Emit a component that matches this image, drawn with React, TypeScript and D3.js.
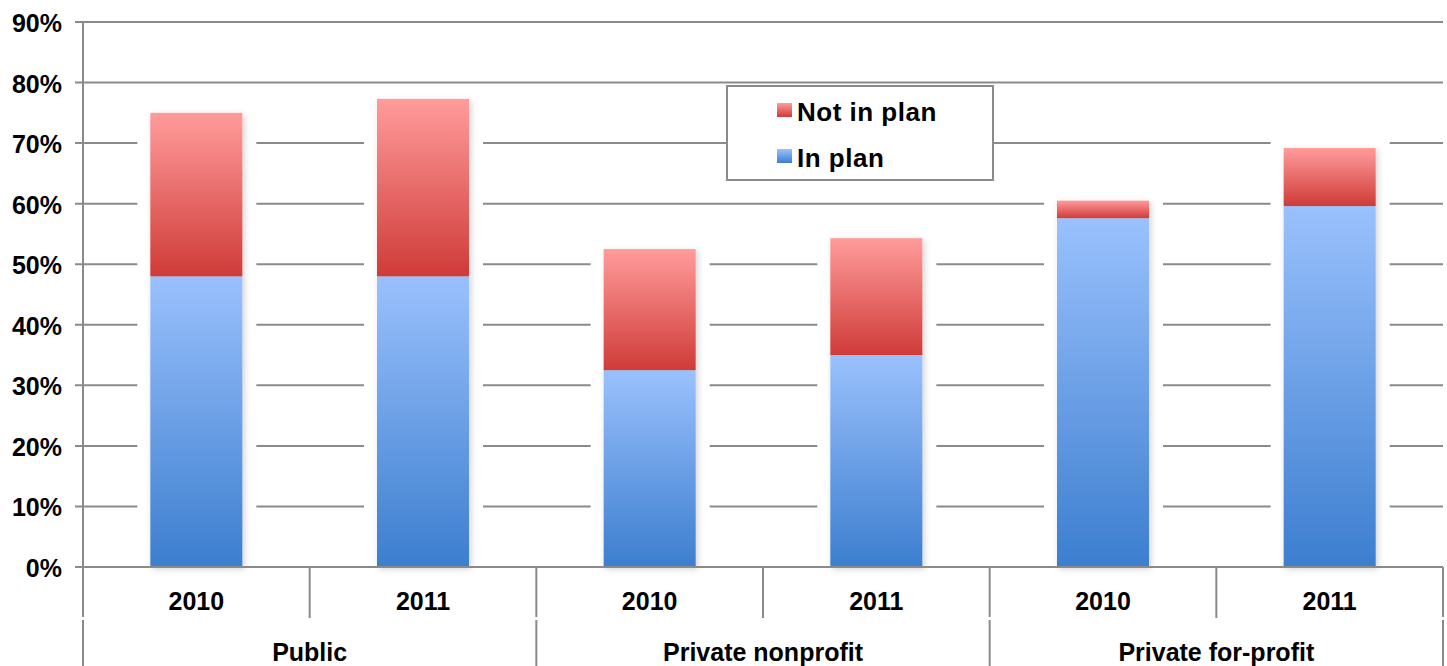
import React from 'react'
import * as d3 from "d3";

const groups = ["Public", "Private nonprofit", "Private for-profit"]
const years = ["2010", "2011"]
// percentage of institutions, one value per group/year slot
const inPlan = [48, 48, 32.5, 35, 57.6, 59.6]
const notInPlan = [27, 29.3, 20, 19.3, 2.9, 9.6]
const yTicks = [0, 10, 20, 30, 40, 50, 60, 70, 80, 90]
const seriesNames = ["Not in plan", "In plan"]

const slots = groups.flatMap(g => years.map(y => `${g}|${y}`))

const dimensions = {
  width: 1447,
  height: 666,
  left: 83,
  right: 1443,
  top: 22,
  bottom: 567,
}

const font = "'Liberation Sans', Arial, sans-serif"
const gridColor = "#8a8a8a"

export default function App() {
  const xScale = d3.scaleBand<string>()
    .domain(slots)
    .range([dimensions.left, dimensions.right])
    .paddingInner(0.594)
    .paddingOuter(0.297)

  const yScale = d3.scaleLinear()
    .domain([0, 90])
    .range([dimensions.bottom, dimensions.top])

  const step = xScale.step()
  const bw = xScale.bandwidth()
  const groupWidth = step * years.length

  return (
    <div style={{ position: 'absolute', left: 0, top: 0 }}>
      <svg width={dimensions.width} height={dimensions.height} style={{ display: 'block', background: '#fff' }}>
        <defs>
          <linearGradient id="redGrad" x1="0" y1="0" x2="0" y2="1">
            <stop offset="0%" stopColor="#ff9c9b" />
            <stop offset="100%" stopColor="#cf3b38" />
          </linearGradient>
          <linearGradient id="blueGrad" x1="0" y1="0" x2="0" y2="1">
            <stop offset="0%" stopColor="#9ac1fd" />
            <stop offset="100%" stopColor="#3c7ecf" />
          </linearGradient>
          <filter id="barShadow" x="-20%" y="-10%" width="140%" height="120%">
            <feDropShadow dx="2" dy="2" stdDeviation="3" floodColor="#000" floodOpacity="0.18" />
          </filter>
        </defs>

        {/* gridlines + y ticks */}
        {yTicks.map(t => (
          <line key={t} x1={dimensions.left - 8} x2={dimensions.right} y1={yScale(t)} y2={yScale(t)}
            stroke={gridColor} strokeWidth={2} />
        ))}

        {/* white halo around bars cuts the gridlines */}
        {slots.map((s, i) => (
          <rect key={s} x={(xScale(s) as number) - 13} width={bw + 27}
            y={yScale(inPlan[i] + notInPlan[i]) - 8}
            height={yScale(0) - yScale(inPlan[i] + notInPlan[i]) + 6}
            fill="#fff" />
        ))}

        {/* y axis line */}
        <line x1={dimensions.left} x2={dimensions.left} y1={dimensions.top - 1} y2={dimensions.bottom}
          stroke={gridColor} strokeWidth={2} />

        {/* bars */}
        <g filter="url(#barShadow)">
          {slots.map((s, i) => (
            <g key={s}>
              <rect x={xScale(s)} width={bw} y={yScale(inPlan[i])} height={yScale(0) - yScale(inPlan[i])}
                fill="url(#blueGrad)" />
              <rect x={xScale(s)} width={bw} y={yScale(inPlan[i] + notInPlan[i])}
                height={yScale(inPlan[i]) - yScale(inPlan[i] + notInPlan[i])}
                fill="url(#redGrad)" />
            </g>
          ))}
        </g>

        {/* x axis line */}
        <line x1={dimensions.left - 8} x2={dimensions.right} y1={yScale(0)} y2={yScale(0)}
          stroke={gridColor} strokeWidth={2} />

        {/* year separators */}
        {slots.map((s, i) => i % 2 === 1 ? (
          <line key={s} x1={(xScale(s) as number) - (step - bw) / 2} x2={(xScale(s) as number) - (step - bw) / 2}
            y1={yScale(0)} y2={618} stroke={gridColor} strokeWidth={2} />
        ) : null)}

        {/* group separators */}
        {d3.range(groups.length + 1).map(i => {
          const x = dimensions.left + i * groupWidth
          return (
            <g key={i}>
              <line x1={x} x2={x} y1={yScale(0)} y2={617} stroke={gridColor} strokeWidth={2} />
              <line x1={x} x2={x} y1={620} y2={dimensions.height} stroke={gridColor} strokeWidth={2} />
            </g>
          )
        })}

        {/* y labels */}
        {yTicks.map(t => (
          <text key={t} x={62} y={yScale(t) + 10} textAnchor="end" fontFamily={font} fontWeight="bold"
            fontSize={25} fill="#000">{t}%</text>
        ))}

        {/* year labels */}
        {slots.map((s, i) => (
          <text key={s} x={(xScale(s) as number) + bw / 2} y={610} textAnchor="middle" fontFamily={font}
            fontWeight="bold" fontSize={25} fill="#000">{years[i % 2]}</text>
        ))}

        {/* group labels */}
        {groups.map((g, i) => (
          <text key={g} x={dimensions.left + (i + 0.5) * groupWidth} y={661} textAnchor="middle"
            fontFamily={font} fontWeight="bold" fontSize={25} fill="#000">{g}</text>
        ))}

        {/* legend */}
        <g>
          <rect x={727} y={86} width={266} height={94} fill="#fff" stroke={gridColor} strokeWidth={2} />
          {seriesNames.map((name, i) => (
            <g key={name} transform={`translate(777, ${103 + i * 46})`}>
              <rect width={15} height={14} fill={i === 0 ? "url(#redGrad)" : "url(#blueGrad)"} />
              <text x={20} y={18} fontFamily={font} fontWeight="bold" fontSize={26} letterSpacing={0.5}
                fill="#000">{name}</text>
            </g>
          ))}
        </g>
      </svg>
    </div>
  )
}
